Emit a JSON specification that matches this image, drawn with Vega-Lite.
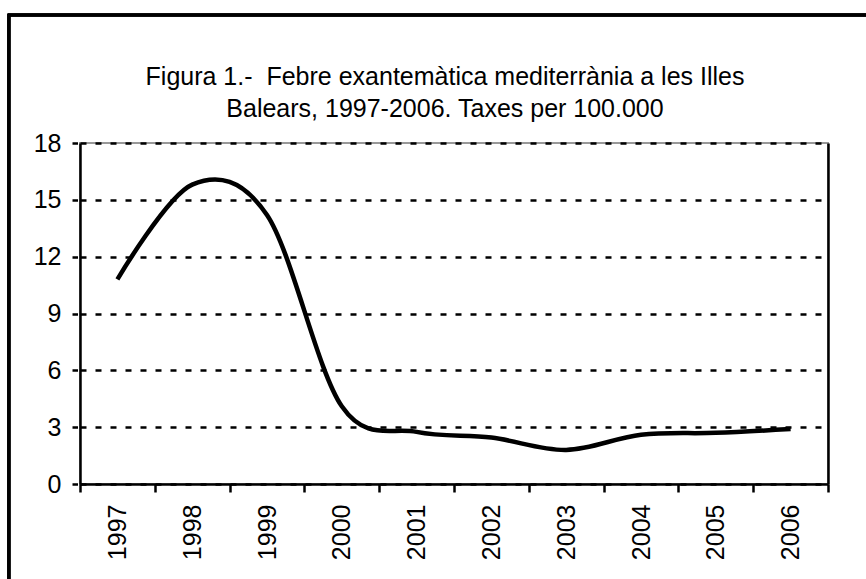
{
  "$schema": "https://vega.github.io/schema/vega-lite/v6.json",
  "width": 748,
  "height": 341,
  "autosize": {"type": "none"},
  "padding": {"left": 80, "top": 143, "right": 38, "bottom": 95},
  "background": "white",
  "title": {
    "text": ["Figura 1.-\u00a0 Febre exantemàtica mediterrània a les Illes", "Balears, 1997-2006. Taxes per 100.000"],
    "font": "Liberation Sans",
    "fontSize": 25,
    "fontWeight": "normal",
    "color": "black",
    "anchor": "middle",
    "frame": "group",
    "lineHeight": 32,
    "dx": -9,
    "offset": -108
  },
  "config": {
    "view": {"stroke": "#999999", "strokeWidth": 2},
    "axis": {
      "labelFont": "Liberation Sans",
      "labelColor": "black",
      "domainColor": "black",
      "tickColor": "black",
      "title": null
    }
  },
  "data": {
    "values": [
      {"year": 1997, "rate": 10.8},
      {"year": 1998, "rate": 15.8},
      {"year": 1999, "rate": 14.2},
      {"year": 2000, "rate": 4.1},
      {"year": 2001, "rate": 2.75},
      {"year": 2002, "rate": 2.45},
      {"year": 2003, "rate": 1.8},
      {"year": 2004, "rate": 2.6},
      {"year": 2005, "rate": 2.7},
      {"year": 2006, "rate": 2.9}
    ]
  },
  "resolve": {"axis": {"y": "independent"}},
  "layer": [
    {
      "mark": {"type": "line", "interpolate": "cardinal", "tension": 0, "color": "black", "strokeWidth": 4.5, "clip": false},
      "encoding": {
        "x": {
          "field": "year",
          "type": "quantitative",
          "scale": {"domain": [1996.5, 2006.5], "nice": false, "zero": false},
          "axis": {
            "values": [1996.5, 1997.5, 1998.5, 1999.5, 2000.5, 2001.5, 2002.5, 2003.5, 2004.5, 2005.5, 2006.5],
            "labelExpr": "datum.value < 2006 ? format(datum.value + 0.5, 'd') : ''",
            "labelOffset": 37.4,
            "labelAngle": 270,
            "labelAlign": "right",
            "labelBaseline": "middle",
            "labelFontSize": 25,
            "labelPadding": 12,
            "tickSize": 8,
            "tickWidth": 2.5,
            "domainWidth": 2.5,
            "grid": false,
            "labelOverlap": false
          }
        },
        "y": {
          "field": "rate",
          "type": "quantitative",
          "scale": {"domain": [0, 18], "nice": false},
          "axis": {
            "values": [0, 3, 6, 9, 12, 15, 18],
            "labelFontSize": 25,
            "labelPadding": 11,
            "tickSize": 8,
            "tickWidth": 2.5,
            "tickDash": [0, 2.5, 6, 10],
            "domainWidth": 2.5,
            "grid": true,
            "gridColor": "black",
            "gridWidth": 2.5,
            "gridDash": [6, 9],
            "gridOpacity": 1
          }
        }
      }
    },
    {
      "mark": {"type": "rect", "fill": null, "fillOpacity": 0, "stroke": "black", "strokeWidth": 2.5, "clip": false},
      "encoding": {
        "x": {"datum": 1995.55, "type": "quantitative"},
        "x2": {"datum": 2008.5},
        "y": {"datum": 24.76, "type": "quantitative", "axis": {"orient": "right", "labels": false, "ticks": false, "grid": false, "domain": true, "domainColor": "black", "domainWidth": 2.5}},
        "y2": {"datum": -10}
      }
    }
  ]
}
